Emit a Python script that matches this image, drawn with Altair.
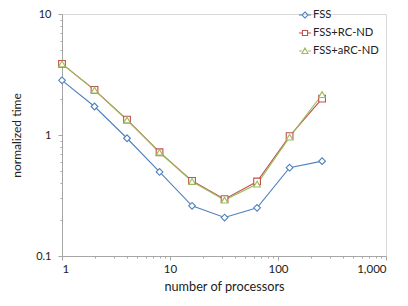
import altair as alt
import pandas as pd

processors = [1, 2, 4, 8, 16, 32, 64, 128, 256]
fss = [2.83, 1.72, 0.94, 0.495, 0.26, 0.208, 0.25, 0.537, 0.608]
fss_rc = [3.87, 2.36, 1.34, 0.72, 0.418, 0.295, 0.413, 0.978, 2.0]
fss_arc = [3.87, 2.35, 1.33, 0.72, 0.413, 0.29, 0.393, 0.96, 2.16]
series_names = ["FSS", "FSS+RC-ND", "FSS+aRC-ND"]
colors = ["#4F81BD", "#C0504D", "#9BBB59"]

x_major = [1, 10, 100, 1000]
x_ticks = [1, 2, 3, 4, 5, 6, 7, 8, 9, 10, 20, 30, 40, 50, 60, 70, 80, 90,
           100, 200, 300, 400, 500, 600, 700, 800, 900, 1000]
y_major = [0.1, 1, 10]
y_ticks = [0.1, 0.2, 0.3, 0.4, 0.5, 0.6, 0.7, 0.8, 0.9,
           1, 2, 3, 4, 5, 6, 7, 8, 9, 10]

rows = []
for name, vals in zip(series_names, [fss, fss_rc, fss_arc]):
    for p, v in zip(processors, vals):
        rows.append({"processors": p, "time": v, "series": name})
df = pd.DataFrame(rows)

FONT = "Lato"

x_enc = alt.X(
    "processors:Q",
    scale=alt.Scale(type="log", domain=[1, 1000], nice=False),
    axis=alt.Axis(
        title="number of processors",
        values=x_ticks,
        labelExpr="indexof([1,10,100,1000], datum.value) >= 0 ? format(datum.value, ',') : ''",
        labelOverlap=False,
        tickSize=alt.condition("indexof([1,10,100,1000], datum.value) >= 0", alt.value(4), alt.value(2)),
        grid=False,
        labelPadding=3,
        titlePadding=6,
        labelFontSize=11.5,
        titleFontSize=12.7,
    ),
)
y_enc = alt.Y(
    "time:Q",
    scale=alt.Scale(type="log", domain=[0.1, 10], nice=False),
    axis=alt.Axis(
        title="normalized time",
        values=y_ticks,
        labelExpr="indexof([0.1,1,10], datum.value) >= 0 ? datum.value + '' : ''",
        labelOverlap=False,
        tickSize=alt.condition("indexof([0.1,1,10], datum.value) >= 0", alt.value(4), alt.value(2)),
        grid=False,
        labelPadding=7,
        titlePadding=12,
        labelFontSize=11,
    ),
)
color_scale = alt.Scale(domain=series_names, range=colors)

lines = alt.Chart(df).mark_line(strokeWidth=1.1).encode(
    x=x_enc, y=y_enc,
    color=alt.Color("series:N", scale=color_scale, legend=None),
    detail="series:N",
)

points = alt.Chart(df).mark_point(filled=False, fill="white", fillOpacity=1, size=45, strokeWidth=1.1, opacity=1).encode(
    x=x_enc, y=y_enc,
    color=alt.Color("series:N", scale=color_scale, legend=None),
    shape=alt.Shape("series:N", scale=alt.Scale(domain=series_names, range=["diamond", "square", "triangle-up"]), legend=None),
)

legend_paths = [
    "M-1,0H-0.5M0.5,0H1M0,-0.5L0.5,0L0,0.5L-0.5,0Z",
    "M-1,0H-0.5M0.5,0H1M-0.42,-0.42H0.42V0.42H-0.42Z",
    "M-1,0H-0.5M0.5,0H1M0,-0.5L0.5,0.42L-0.5,0.42Z",
]

legend_def = alt.Legend(
    title=None,
    orient="none",
    legendX=236,
    legendY=-6,
    labelFont=FONT,
    labelFontSize=11.2,
    labelColor="#222222",
    labelOffset=1,
    rowPadding=5,
    symbolSize=150,
    symbolStrokeWidth=1.1,
    symbolOpacity=1,
    symbolFillColor="white",
)

legend_layer = alt.Chart(df).mark_point(filled=False, strokeWidth=1.1, size=150).encode(
    x=x_enc, y=y_enc,
    opacity=alt.value(0),
    color=alt.Color("series:N", scale=alt.Scale(domain=series_names, range=colors), legend=legend_def),
    shape=alt.Shape("series:N", scale=alt.Scale(domain=series_names, range=legend_paths), legend=legend_def),
)

chart = alt.layer(lines, points, legend_layer).resolve_scale(
    shape="independent", color="independent"
).properties(
    width=324,
    height=242,
    autosize=alt.AutoSizeParams(type="none"),
    padding={"left": 54, "top": 6, "right": 14, "bottom": 42},
    background="white",
).configure_view(
    stroke="#D9D9D9", strokeWidth=1,
).configure_axis(
    domainColor="#A6A6A6",
    tickColor="#A6A6A6",
    labelFont=FONT,
    titleFont=FONT,
    titleFontSize=12,
    labelColor="#222222",
    titleColor="#222222",
    titleFontWeight="normal",
)

chart.save("out.html", embed_options={"renderer": "svg", "actions": False})
